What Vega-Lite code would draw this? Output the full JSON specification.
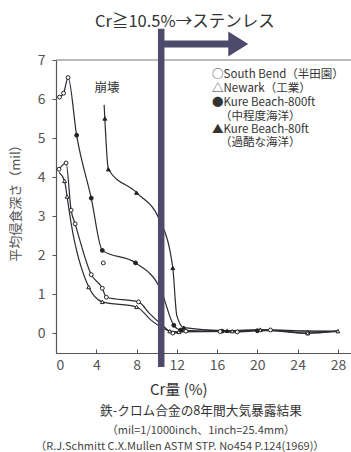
{
  "$schema": "https://vega.github.io/schema/vega-lite/v6.json",
  "width": 295,
  "height": 293,
  "autosize": {"type": "none"},
  "padding": {"left": 56, "top": 60, "right": 0, "bottom": 99},
  "background": "white",
  "config": {"view": {"stroke": null}, "font": "Noto Sans CJK JP", "text": {"font": "Noto Sans CJK JP"}},
  "datasets": {
    "curves": [
      {"curve": "A", "series": "South Bend", "type": "measured", "cr": 0.35, "depth": 6.05},
      {"curve": "A", "series": "South Bend", "type": "measured", "cr": 0.75, "depth": 6.15},
      {"curve": "A", "series": "South Bend", "type": "measured", "cr": 1.2, "depth": 6.55},
      {"curve": "A", "series": "Kure Beach-800ft", "type": "measured", "cr": 2.05, "depth": 5.07},
      {"curve": "A", "series": "Kure Beach-800ft", "type": "measured", "cr": 3.5, "depth": 3.46},
      {"curve": "A", "series": "Kure Beach-800ft", "type": "measured", "cr": 4.6, "depth": 2.12},
      {"curve": "A", "series": "Kure Beach-800ft", "type": "measured", "cr": 7.9, "depth": 1.8},
      {"curve": "A", "series": "Kure Beach-800ft", "type": "curve", "cr": 10.4, "depth": 1.12},
      {"curve": "A", "series": "Kure Beach-800ft", "type": "measured", "cr": 11.7, "depth": 0.2},
      {"curve": "A", "series": "Kure Beach-800ft", "type": "measured", "cr": 12.4, "depth": 0.08},
      {"curve": "A", "series": "Kure Beach-800ft", "type": "measured", "cr": 16.5, "depth": 0.05},
      {"curve": "A", "series": "Kure Beach-800ft", "type": "measured", "cr": 20.0, "depth": 0.06},
      {"curve": "A", "series": "Kure Beach-800ft", "type": "curve", "cr": 28.0, "depth": 0.04},

      {"curve": "B", "series": "Kure Beach-80ft", "type": "curve", "cr": 4.78, "depth": 5.85},
      {"curve": "B", "series": "Kure Beach-80ft", "type": "measured", "cr": 4.85, "depth": 5.5},
      {"curve": "B", "series": "Kure Beach-80ft", "type": "measured", "cr": 5.2, "depth": 4.2},
      {"curve": "B", "series": "Kure Beach-80ft", "type": "measured", "cr": 8.0, "depth": 3.6},
      {"curve": "B", "series": "Kure Beach-80ft", "type": "curve", "cr": 10.3, "depth": 2.9},
      {"curve": "B", "series": "Kure Beach-80ft", "type": "measured", "cr": 11.6, "depth": 1.67},
      {"curve": "B", "series": "Kure Beach-80ft", "type": "curve", "cr": 12.0, "depth": 0.45},
      {"curve": "B", "series": "Kure Beach-80ft", "type": "measured", "cr": 12.7, "depth": 0.14},
      {"curve": "B", "series": "Kure Beach-80ft", "type": "measured", "cr": 17.0, "depth": 0.06},
      {"curve": "B", "series": "Kure Beach-80ft", "type": "measured", "cr": 20.3, "depth": 0.09},
      {"curve": "B", "series": "Kure Beach-80ft", "type": "curve", "cr": 24.0, "depth": 0.06},
      {"curve": "B", "series": "Kure Beach-80ft", "type": "curve", "cr": 28.0, "depth": 0.05},

      {"curve": "C", "series": "South Bend", "type": "measured", "cr": 0.3, "depth": 4.2},
      {"curve": "C", "series": "South Bend", "type": "measured", "cr": 1.0, "depth": 4.36},
      {"curve": "C", "series": "South Bend", "type": "measured", "cr": 1.5, "depth": 3.15},
      {"curve": "C", "series": "South Bend", "type": "measured", "cr": 1.9, "depth": 2.8},
      {"curve": "C", "series": "South Bend", "type": "measured", "cr": 3.5, "depth": 1.5},
      {"curve": "C", "series": "South Bend", "type": "measured", "cr": 4.6, "depth": 1.15},
      {"curve": "C", "series": "South Bend", "type": "measured", "cr": 5.0, "depth": 0.92},
      {"curve": "C", "series": "South Bend", "type": "measured", "cr": 8.2, "depth": 0.8},
      {"curve": "C", "series": "South Bend", "type": "curve", "cr": 9.3, "depth": 0.5},
      {"curve": "C", "series": "South Bend", "type": "curve", "cr": 10.5, "depth": 0.22},
      {"curve": "C", "series": "South Bend", "type": "measured", "cr": 11.6, "depth": 0.0},
      {"curve": "C", "series": "South Bend", "type": "measured", "cr": 12.9, "depth": 0.05},
      {"curve": "C", "series": "South Bend", "type": "measured", "cr": 16.3, "depth": 0.04},
      {"curve": "C", "series": "South Bend", "type": "measured", "cr": 18.0, "depth": 0.03},
      {"curve": "C", "series": "South Bend", "type": "measured", "cr": 21.3, "depth": 0.08},
      {"curve": "C", "series": "South Bend", "type": "measured", "cr": 25.0, "depth": 0.0},
      {"curve": "C", "series": "South Bend", "type": "curve", "cr": 28.0, "depth": 0.05},

      {"curve": "D", "series": "Newark", "type": "curve", "cr": 0.3, "depth": 4.12},
      {"curve": "D", "series": "Newark", "type": "measured", "cr": 0.85, "depth": 3.9},
      {"curve": "D", "series": "Newark", "type": "measured", "cr": 1.1, "depth": 3.5},
      {"curve": "D", "series": "Newark", "type": "curve", "cr": 1.5, "depth": 2.82},
      {"curve": "D", "series": "Newark", "type": "measured", "cr": 3.25, "depth": 1.18},
      {"curve": "D", "series": "Newark", "type": "measured", "cr": 4.6, "depth": 0.8},
      {"curve": "D", "series": "Newark", "type": "measured", "cr": 8.0, "depth": 0.67},
      {"curve": "D", "series": "Newark", "type": "curve", "cr": 9.5, "depth": 0.32},
      {"curve": "D", "series": "Newark", "type": "curve", "cr": 10.8, "depth": 0.1},
      {"curve": "D", "series": "Newark", "type": "measured", "cr": 11.3, "depth": 0.05},
      {"curve": "D", "series": "Newark", "type": "measured", "cr": 12.2, "depth": 0.03},
      {"curve": "D", "series": "Newark", "type": "measured", "cr": 17.5, "depth": 0.05},
      {"curve": "D", "series": "Newark", "type": "measured", "cr": 20.3, "depth": 0.08},
      {"curve": "D", "series": "Newark", "type": "measured", "cr": 25.0, "depth": 0.0},
      {"curve": "D", "series": "Newark", "type": "measured", "cr": 28.0, "depth": 0.05},

      {"curve": "E", "series": "South Bend", "type": "measured", "cr": 4.7, "depth": 1.8}
    ]
  },
  "layer": [
    {
      "data": {"values": [{}]},
      "mark": {"type": "rule", "color": "#777", "strokeWidth": 1.2},
      "encoding": {"y": {"datum": 7, "type": "quantitative", "scale": {"domain": [-0.51, 7], "nice": false, "zero": false}}}
    },
    {
      "data": {"name": "curves"},
      "mark": {"type": "line", "interpolate": "monotone", "color": "#2b2b33", "strokeWidth": 1.2},
      "encoding": {
        "x": {"field": "cr", "type": "quantitative",
          "scale": {"domain": [0, 29.3], "nice": false, "zero": false},
          "axis": {"title": null, "values": [0, 4, 8, 12, 16, 20, 24, 28], "grid": false,
            "labelFontSize": 14, "labelColor": "#555", "tickSize": -4, "tickColor": "#555",
            "labelPadding": 9, "domainColor": "#555", "domainWidth": 1.2, "labelFont": "Noto Sans CJK JP"}},
        "y": {"field": "depth", "type": "quantitative",
          "scale": {"domain": [-0.51, 7], "nice": false, "zero": false},
          "axis": {"title": null, "values": [0, 1, 2, 3, 4, 5, 6, 7], "grid": false,
            "labelFontSize": 14, "labelColor": "#555", "tickSize": 4, "tickColor": "#555",
            "labelPadding": 7, "domainColor": "#555", "domainWidth": 1.2, "labelFont": "Noto Sans CJK JP"}},
        "detail": {"field": "curve"}
      }
    },
    {
      "data": {"name": "curves"},
      "transform": [{"filter": "datum.type == 'measured'"}],
      "mark": {"type": "point", "filled": true, "stroke": "#222", "strokeWidth": 1, "size": 15, "opacity": 1},
      "encoding": {
        "x": {"field": "cr", "type": "quantitative"},
        "y": {"field": "depth", "type": "quantitative"},
        "shape": {"field": "series", "type": "nominal", "legend": null,
          "scale": {"domain": ["South Bend", "Newark", "Kure Beach-800ft", "Kure Beach-80ft"], "range": ["circle", "triangle-up", "circle", "triangle-up"]}},
        "fill": {"field": "series", "type": "nominal", "legend": null,
          "scale": {"domain": ["South Bend", "Newark", "Kure Beach-800ft", "Kure Beach-80ft"], "range": ["white", "white", "#222", "#222"]}}
      }
    },
    {
      "data": {"values": [{}]},
      "mark": {"type": "rule", "color": "#4d4a6b", "strokeWidth": 6.5},
      "encoding": {"x": {"datum": 10.45, "type": "quantitative"}, "y": {"datum": 7.8, "type": "quantitative"}, "y2": {"datum": -0.87}}
    },
    {
      "data": {"values": [{}]},
      "mark": {"type": "rule", "color": "#4d4a6b", "strokeWidth": 7},
      "encoding": {"x": {"datum": 10.45, "type": "quantitative"}, "x2": {"datum": 17.2}, "y": {"datum": 7.41, "type": "quantitative"}}
    },
    {
      "data": {"values": [{}]},
      "mark": {"type": "point", "shape": "M-0.8,-1L0.8,0L-0.8,1Z", "filled": true, "color": "#4d4a6b", "size": 625, "opacity": 1},
      "encoding": {"x": {"datum": 18.1, "type": "quantitative"}, "y": {"datum": 7.41, "type": "quantitative"}}
    },
    {
      "data": {"values": [{}]},
      "mark": {"type": "text", "text": "Cr≧10.5%→ステンレス", "fontSize": 16.5, "color": "#333", "align": "center", "baseline": "middle"},
      "encoding": {"x": {"datum": 12.8, "type": "quantitative"}, "y": {"datum": 7.97, "type": "quantitative"}}
    },
    {
      "data": {"values": [{}]},
      "mark": {"type": "text", "text": "崩壊", "fontSize": 12.5, "color": "#333", "align": "center", "baseline": "middle"},
      "encoding": {"x": {"datum": 5.06, "type": "quantitative"}, "y": {"datum": 6.28, "type": "quantitative"}}
    },
    {
      "data": {"values": [{}]},
      "mark": {"type": "text", "text": "○South Bend（半田園）", "fontSize": 11.5, "color": "#333", "align": "left", "baseline": "middle"},
      "encoding": {"x": {"datum": 15.5, "type": "quantitative"}, "y": {"datum": 6.62, "type": "quantitative"}}
    },
    {
      "data": {"values": [{}]},
      "mark": {"type": "text", "text": "△Newark（工業）", "fontSize": 11.5, "color": "#333", "align": "left", "baseline": "middle"},
      "encoding": {"x": {"datum": 15.5, "type": "quantitative"}, "y": {"datum": 6.26, "type": "quantitative"}}
    },
    {
      "data": {"values": [{}]},
      "mark": {"type": "text", "text": "●Kure Beach-800ft", "fontSize": 11.5, "color": "#333", "align": "left", "baseline": "middle"},
      "encoding": {"x": {"datum": 15.5, "type": "quantitative"}, "y": {"datum": 5.9, "type": "quantitative"}}
    },
    {
      "data": {"values": [{}]},
      "mark": {"type": "text", "text": "（中程度海洋）", "fontSize": 11.5, "color": "#333", "align": "left", "baseline": "middle"},
      "encoding": {"x": {"datum": 16.3, "type": "quantitative"}, "y": {"datum": 5.55, "type": "quantitative"}}
    },
    {
      "data": {"values": [{}]},
      "mark": {"type": "text", "text": "▲Kure Beach-80ft", "fontSize": 11.5, "color": "#333", "align": "left", "baseline": "middle"},
      "encoding": {"x": {"datum": 15.5, "type": "quantitative"}, "y": {"datum": 5.2, "type": "quantitative"}}
    },
    {
      "data": {"values": [{}]},
      "mark": {"type": "text", "text": "（過酷な海洋）", "fontSize": 11.5, "color": "#333", "align": "left", "baseline": "middle"},
      "encoding": {"x": {"datum": 16.3, "type": "quantitative"}, "y": {"datum": 4.86, "type": "quantitative"}}
    },
    {
      "data": {"values": [{}]},
      "mark": {"type": "text", "text": "平均侵食深さ（mil）", "fontSize": 13, "color": "#555", "align": "center", "baseline": "middle", "angle": 270},
      "encoding": {"x": {"datum": -3.97, "type": "quantitative"}, "y": {"datum": 3.41, "type": "quantitative"}}
    },
    {
      "data": {"values": [{}]},
      "mark": {"type": "text", "text": "Cr量 (%)", "fontSize": 15, "color": "#333", "align": "center", "baseline": "middle"},
      "encoding": {"x": {"datum": 12.2, "type": "quantitative"}, "y": {"datum": -1.46, "type": "quantitative"}}
    },
    {
      "data": {"values": [{}]},
      "mark": {"type": "text", "text": "鉄-クロム合金の8年間大気暴露結果", "fontSize": 12.7, "color": "#333", "align": "center", "baseline": "middle"},
      "encoding": {"x": {"datum": 14.4, "type": "quantitative"}, "y": {"datum": -2.0, "type": "quantitative"}}
    },
    {
      "data": {"values": [{}]},
      "mark": {"type": "text", "text": "（mil=1/1000inch、1inch=25.4mm）", "fontSize": 11, "color": "#444", "align": "center", "baseline": "middle"},
      "encoding": {"x": {"datum": 14.4, "type": "quantitative"}, "y": {"datum": -2.51, "type": "quantitative"}}
    },
    {
      "data": {"values": [{}]},
      "mark": {"type": "text", "text": "（R.J.Schmitt C.X.Mullen ASTM STP. No454 P.124(1969)）", "fontSize": 11, "color": "#444", "align": "center", "baseline": "middle"},
      "encoding": {"x": {"datum": 12.3, "type": "quantitative"}, "y": {"datum": -2.91, "type": "quantitative"}}
    }
  ]
}
